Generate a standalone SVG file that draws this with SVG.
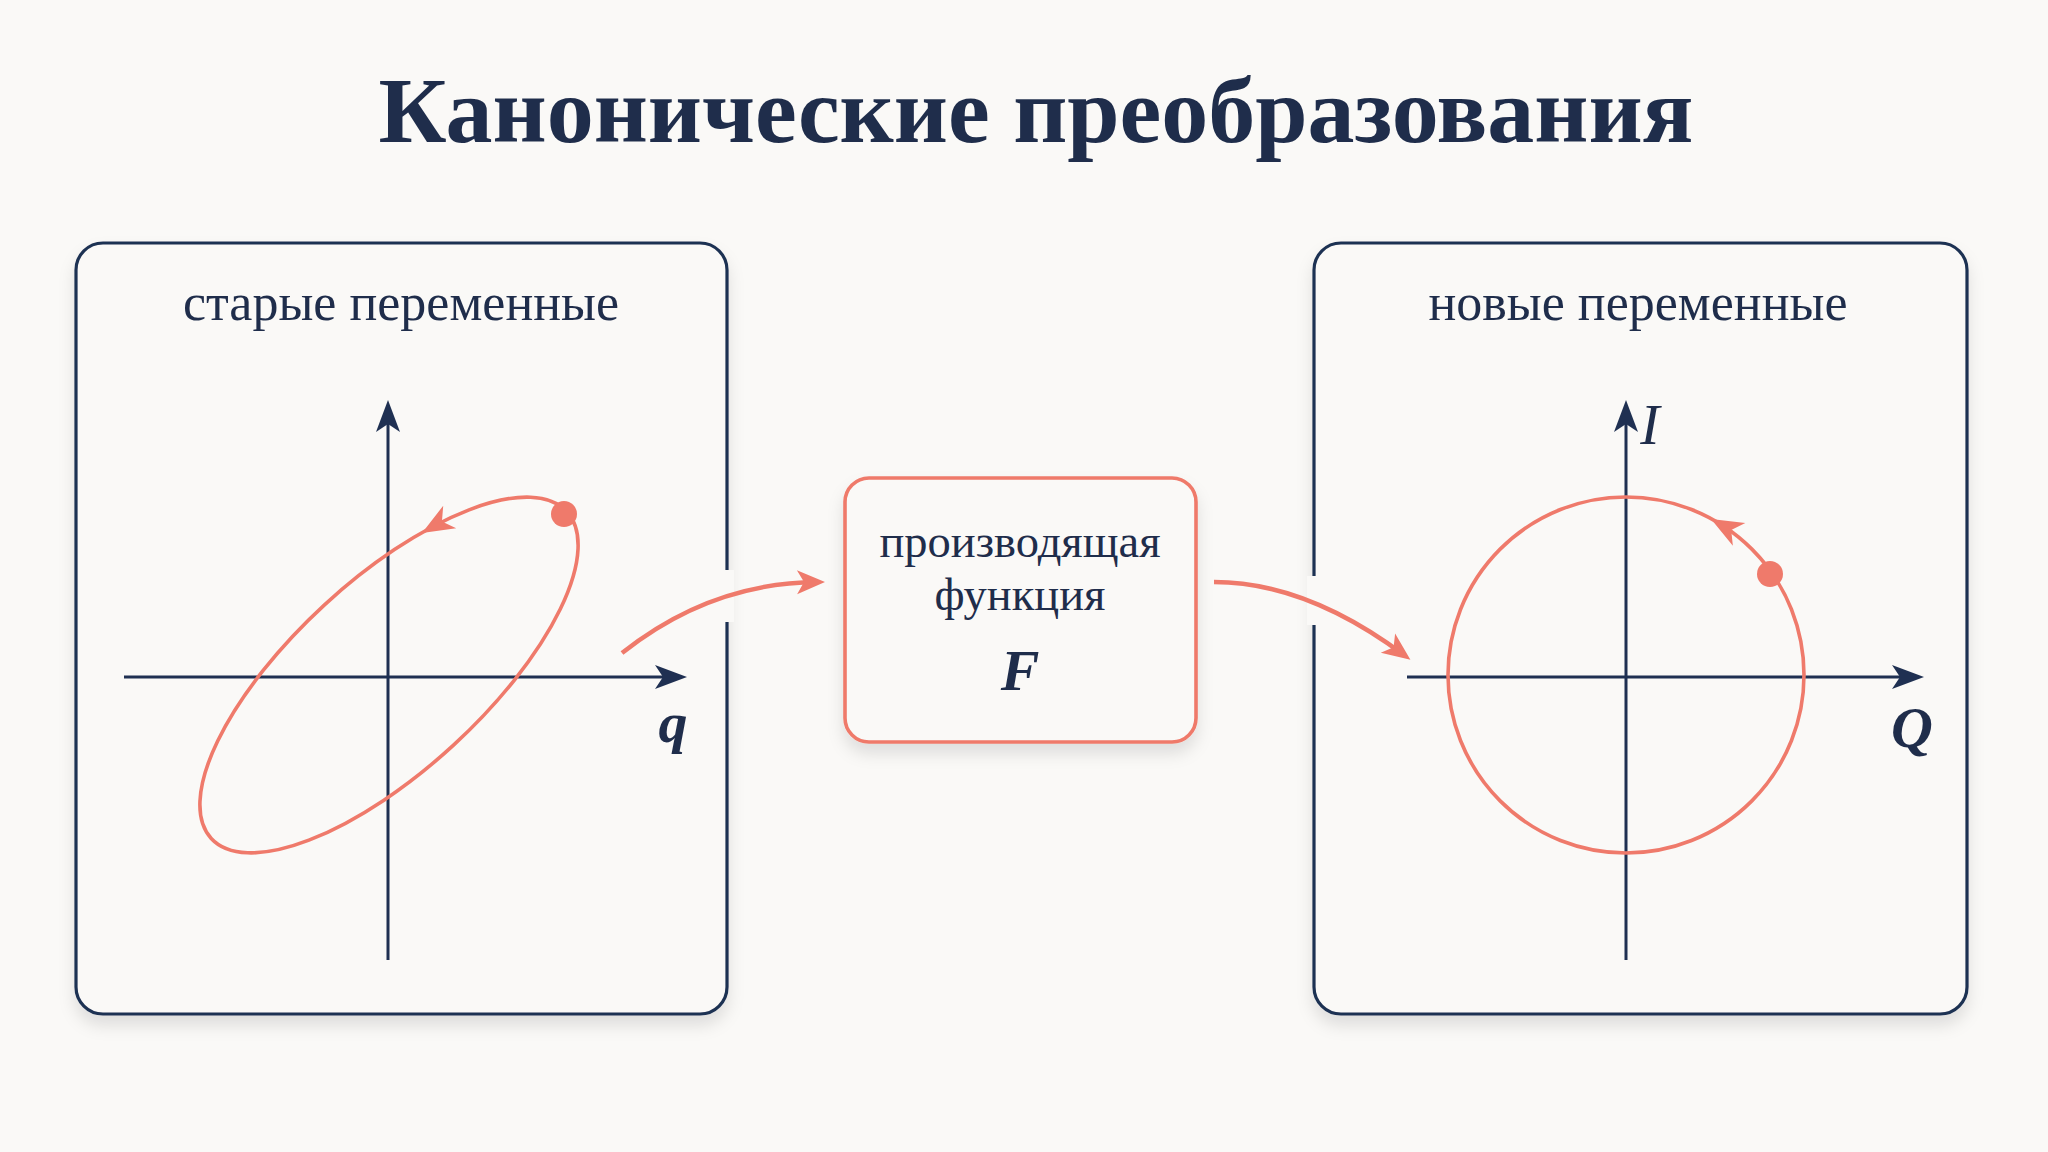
<svg xmlns="http://www.w3.org/2000/svg" width="2048" height="1152" viewBox="0 0 2048 1152">
<defs>
<style>
.bg{fill:#faf9f7}
.panel{fill:#faf9f7;stroke:#1f3052;stroke-width:3.2}
.gen{fill:#faf9f7;stroke:#ef7a6b;stroke-width:3.6}
.axis{stroke:#1f3052;stroke-width:3;fill:none}
.orbit{stroke:#ef7a6b;stroke-width:3.6;fill:none}
.conn{stroke:#ef7a6b;stroke-width:4.5;fill:none}
.navy{fill:#1f3052}
.coral{fill:#ef7a6b}
.title{font-family:"Liberation Serif","Times New Roman",serif;font-weight:bold;font-size:94px;fill:#1f2d4b;text-anchor:middle}
.lbl{font-family:"Liberation Serif","Times New Roman",serif;font-size:52px;fill:#1f2d4b;text-anchor:middle}
.box{font-family:"Liberation Serif","Times New Roman",serif;font-size:46.5px;fill:#1f2d4b;text-anchor:middle}
.math{font-family:"Liberation Serif","Times New Roman",serif;font-style:italic;font-size:58px;fill:#1f2d4b;text-anchor:middle}
</style>
<filter id="sh" x="-10%" y="-10%" width="120%" height="125%">
<feDropShadow dx="0" dy="10" stdDeviation="8" flood-color="#000" flood-opacity="0.11"/>
</filter>
<marker id="ca" markerUnits="userSpaceOnUse" markerWidth="40" markerHeight="40" viewBox="-30 -15 40 30" refX="0" refY="0" orient="auto">
<path d="M8,0 L-20,-12 L-13,0 L-20,12 Z" fill="#ef7a6b"/>
</marker>
<path id="axh" d="M0,0 L-32,-12 L-24,0 L-32,12 Z"/>
<path id="coh" d="M0,0 L-32,-13 L-23,0 L-32,13 Z"/>
</defs>
<rect class="bg" x="0" y="0" width="2048" height="1152"/>

<g id="title">
<text class="title" x="1036" y="142">Канонические преобразования</text>
</g>

<g id="panel-old">
<rect class="panel" x="76" y="243" width="651" height="771" rx="27" filter="url(#sh)"/>
<rect class="bg" x="720" y="570" width="14" height="52"/>
<text class="lbl" x="401" y="320">старые переменные</text>
<line class="axis" x1="124" y1="677" x2="670" y2="677"/>
<use href="#axh" class="navy" transform="translate(687 677)"/>
<line class="axis" x1="388" y1="960" x2="388" y2="416"/>
<use href="#axh" class="navy" transform="translate(388 400) rotate(-90)"/>
<ellipse class="orbit" cx="389" cy="675" rx="241.5" ry="95.3" transform="rotate(-42.6 389 675)"/>
<use href="#coh" class="coral" transform="translate(422 533) rotate(150)"/>
<circle class="coral" cx="564" cy="514" r="13"/>
<text class="math" x="673" y="742" font-weight="bold">q</text>
</g>

<g id="generator">
<rect class="gen" x="845" y="478" width="351" height="264" rx="24" filter="url(#sh)"/>
<text class="box" x="1020" y="557">производящая</text>
<text class="box" x="1020" y="610">функция</text>
<text class="math" x="1020" y="690" font-weight="bold" font-size="64">F</text>
</g>

<g id="panel-new">
<rect class="panel" x="1314" y="243" width="653" height="771" rx="27" filter="url(#sh)"/>
<rect class="bg" x="1307" y="576" width="14" height="49"/>
<text class="lbl" x="1638" y="320">новые переменные</text>
<line class="axis" x1="1407" y1="677" x2="1908" y2="677"/>
<use href="#axh" class="navy" transform="translate(1924 677)"/>
<line class="axis" x1="1626" y1="960" x2="1626" y2="416"/>
<use href="#axh" class="navy" transform="translate(1626 400) rotate(-90)"/>
<circle class="orbit" cx="1626" cy="675" r="178"/>
<use href="#coh" class="coral" transform="translate(1711 519) rotate(-151.4)"/>
<circle class="coral" cx="1770" cy="574" r="13"/>
<text class="math" x="1650" y="444">I</text>
<text class="math" x="1912" y="747" font-weight="bold">Q</text>
</g>

<g id="connectors">
<path class="conn" d="M622,653 Q710,583 817,582" marker-end="url(#ca)"/>
<path class="conn" d="M1214,582 Q1306,582 1404,655" marker-end="url(#ca)"/>
</g>
</svg>
